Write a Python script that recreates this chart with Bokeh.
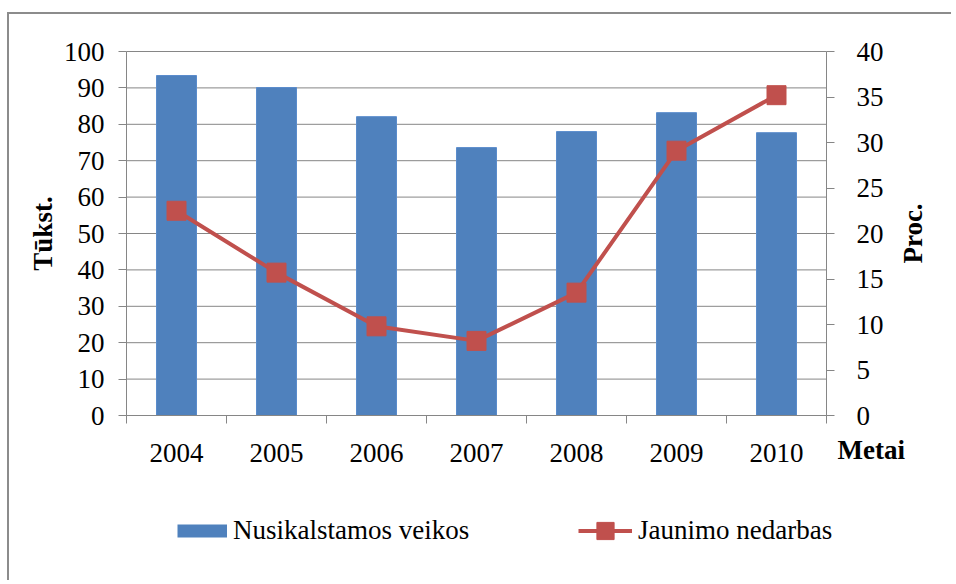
import math
from bokeh.plotting import figure
from bokeh.models import (Range1d, LinearAxis, FixedTicker, Legend, LegendItem, Label, Grid)
from bokeh.embed import file_html
from bokeh.resources import INLINE

years = ["2004", "2005", "2006", "2007", "2008", "2009", "2010"]
crimes = [93.4, 90.1, 82.1, 73.6, 78.0, 83.2, 77.7]          # Nusikalstamos veikos, tūkst.
unemployment = [22.5, 15.7, 9.8, 8.2, 13.5, 29.1, 35.2]      # Jaunimo nedarbas, proc.
left_ticks = list(range(0, 101, 10))
right_ticks = list(range(0, 41, 5))

# category slots: each year occupies one unit, its centre at i + 0.5
n = len(years)
xpos = [i + 0.5 for i in range(n)]
bounds = list(range(n + 1))

FONT = "Liberation Serif"
GRAY = "#868686"
BLUE = "#4F81BD"
RED = "#C0504D"

W, H = 944, 568
# plot area: x 0..7 spans 700 px starting 117 px from the left; y 0 is 401 px below the top
XPX, X0 = 100.0, 117
YPX, Y0 = 3.64, 401
RPX = 9.1

p = figure(width=W, height=H,
           x_range=Range1d(-X0 / XPX, (W - X0) / XPX),
           y_range=Range1d(-(H - Y0) / YPX, Y0 / YPX),
           output_backend="svg", toolbar_location=None,
           x_axis_location=None, y_axis_location=None, min_border=0)
p.center = [c for c in p.center if not isinstance(c, Grid)]
p.margin = (12, 0, 0, 7)
p.styles = {"border-left": "2px solid #8c8c8c", "border-top": "2px solid #8c8c8c"}
p.outline_line_color = None
p.background_fill_color = "white"
p.border_fill_color = "white"
p.extra_y_ranges = {"r": Range1d(-(H - Y0) / RPX, Y0 / RPX)}

def style_axis(ax):
    ax.axis_line_color = GRAY
    ax.major_tick_line_color = GRAY
    ax.minor_tick_line_color = None
    ax.major_tick_in = 0
    ax.major_tick_out = 8
    ax.major_label_text_font = FONT
    ax.major_label_text_font_size = "27px"
    ax.major_label_text_color = "black"
    ax.axis_label_text_font = FONT
    ax.axis_label_text_font_size = "27px"
    ax.axis_label_text_font_style = "bold"
    ax.axis_label_text_color = "black"

# horizontal grid lines across the category area
p.segment(x0=0, x1=n, y0=left_ticks, y1=left_ticks, line_color=GRAY, line_width=1)

left = LinearAxis(ticker=FixedTicker(ticks=left_ticks), axis_label="Tūkst.",
                  fixed_location=0, bounds=(0, 100))
style_axis(left)
left.major_label_standoff = 14
left.axis_label_standoff = 3
p.add_layout(left, "left")

right = LinearAxis(y_range_name="r", ticker=FixedTicker(ticks=right_ticks),
                   fixed_location=n, bounds=(0, 40))
style_axis(right)
right.major_label_standoff = 22
p.add_layout(right, "right")

# right axis title, reading bottom to top, beside the right tick labels
p.add_layout(Label(x=n, y=left_ticks[-1] / 2, x_offset=86, text="Proc.", angle=math.pi / 2,
                   text_font=FONT, text_font_style="bold", text_font_size="27px",
                   text_align="center", text_baseline="middle", text_color="black"))

xaxis = LinearAxis(ticker=FixedTicker(ticks=xpos, minor_ticks=bounds),
                   major_label_overrides={x: y for x, y in zip(xpos, years)},
                   fixed_location=0, bounds=(0, n))
style_axis(xaxis)
xaxis.major_tick_line_color = None
xaxis.minor_tick_line_color = GRAY
xaxis.minor_tick_in = 0
xaxis.minor_tick_out = 8
xaxis.major_label_standoff = 20
p.add_layout(xaxis, "below")

p.add_layout(Label(x=n, y=-9.6, x_offset=11, text="Metai", text_font=FONT,
                   text_font_style="bold", text_font_size="27px",
                   text_baseline="middle", text_color="black"))

bars = p.vbar(x=xpos, top=crimes, width=0.4, fill_color=BLUE, line_color="#5a8ccc", line_width=1)
ln = p.line(x=xpos, y=unemployment, y_range_name="r", line_width=4, line_color=RED)
mk = p.scatter(x=xpos, y=unemployment, y_range_name="r", marker="square", size=19,
               fill_color=RED, line_color=RED)
# legend key for the bar series: a flat, wide stroke like the reference key (draws nothing itself)
nan = float("nan")
bar_key = p.line(x=[nan], y=[nan], line_width=13, line_color=BLUE, line_cap="butt")

common = dict(orientation="horizontal", padding=0, margin=0, border_line_color=None,
              background_fill_alpha=0, label_text_font=FONT, label_text_font_size="27px",
              label_text_color="black", label_standoff=6, glyph_height=43)
p.add_layout(Legend(items=[LegendItem(label="Nusikalstamos veikos", renderers=[bar_key])],
                    location=(168, 30), glyph_width=50, **common))
p.add_layout(Legend(items=[LegendItem(label="Jaunimo nedarbas", renderers=[ln, mk])],
                    location=(569, 30), glyph_width=54, **common))

open("out.html", "w").write(file_html(p, INLINE))
